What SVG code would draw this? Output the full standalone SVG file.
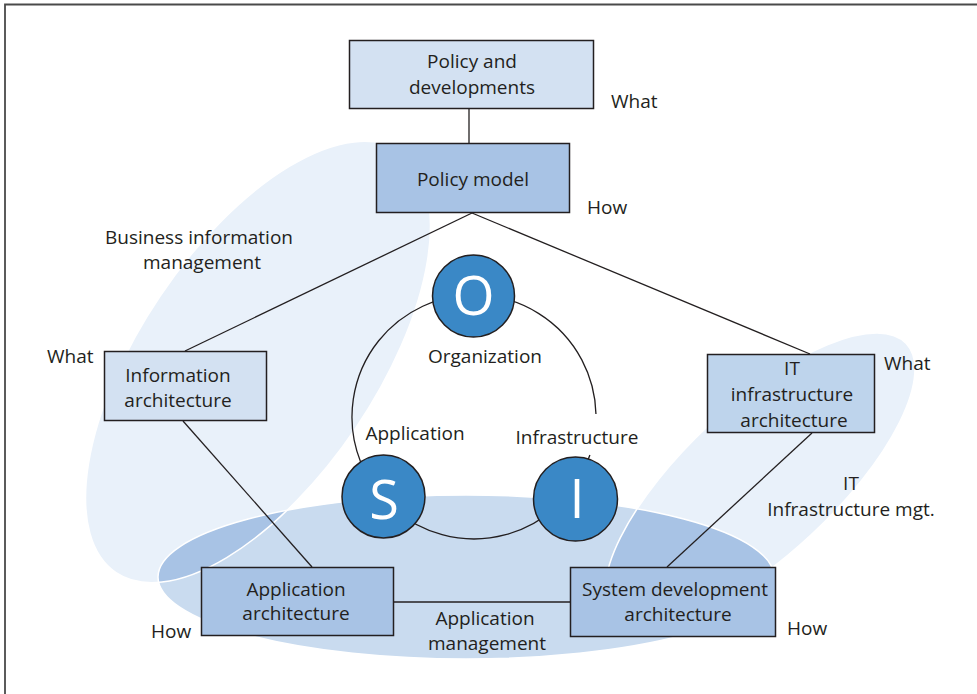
<svg xmlns="http://www.w3.org/2000/svg" width="977" height="694" viewBox="0 0 977 694">
<style>
  .t { font-family: "Open Sans", "Liberation Sans", sans-serif; font-size: 19px; fill: #231f20; text-anchor: middle; }
  .tl { font-family: "Open Sans", "Liberation Sans", sans-serif; font-size: 19px; fill: #231f20; }
  .box { stroke: #231f20; stroke-width: 1.5; }
  .light { fill: #d3e1f2; }
  .mid { fill: #a8c3e5; }
  .itb { fill: #bed4ec; }
  .edge { fill: none; stroke: #231f20; stroke-width: 1.3; }
  .osi { fill: #3a88c6; stroke: #231f20; stroke-width: 1.5; }
  .letter { font-family: "Open Sans", "Liberation Sans", sans-serif; font-size: 54px; fill: #ffffff; text-anchor: middle; }
</style>
<defs>
  <clipPath id="cpBottom">
    <ellipse cx="466" cy="577" rx="308" ry="82"/>
  </clipPath>
</defs>
<rect x="0" y="0" width="977" height="694" fill="#ffffff"/>
<!-- frame -->
<path d="M5 694 V4.5 H977" fill="none" stroke="#4a4a4a" stroke-width="1.8"/>

<!-- regions -->
<g id="regions">
  <ellipse id="bizEllipse" cx="258" cy="362" rx="254" ry="118" transform="rotate(-56 258 362)" fill="#e9f1fa"/>
  <ellipse id="itEllipse" cx="760" cy="480" rx="200" ry="75" transform="rotate(-43 760 480)" fill="#e9f1fa"/>
  <ellipse id="appEllipse" cx="466" cy="577" rx="308" ry="82" fill="#c9dbef"/>
  <g clip-path="url(#cpBottom)">
    <ellipse cx="258" cy="362" rx="254" ry="118" transform="rotate(-56 258 362)" fill="#a8c3e5"/>
    <ellipse cx="760" cy="480" rx="200" ry="75" transform="rotate(-43 760 480)" fill="#a8c3e5"/>
  </g>
  <g fill="none" stroke="#ffffff" stroke-width="1.5">
    <ellipse cx="258" cy="362" rx="254" ry="118" transform="rotate(-56 258 362)"/>
    <ellipse cx="760" cy="480" rx="200" ry="75" transform="rotate(-43 760 480)"/>
    <ellipse cx="466" cy="577" rx="308" ry="82"/>
  </g>
</g>

<!-- connectors -->
<g id="connectors">
  <line class="edge" x1="469" y1="109" x2="469" y2="143"/>
  <line class="edge" x1="472" y1="213" x2="185" y2="351"/>
  <line class="edge" x1="472" y1="213" x2="810" y2="354"/>
  <line class="edge" x1="183" y1="421" x2="312" y2="567"/>
  <line class="edge" x1="812" y1="433" x2="667" y2="567"/>
  <line class="edge" x1="394" y1="602" x2="570" y2="602"/>
  <path class="edge" d="M595.96 414 A122 122 0 1 0 589.9 455"/>
</g>

<!-- region labels -->
<g id="labels">
  <text class="t" x="199" y="244">Business information</text>
  <text class="t" x="202" y="269">management</text>
  <text class="tl" x="611" y="108">What</text>
  <text class="tl" x="587" y="214">How</text>
  <text class="tl" x="47" y="363">What</text>
  <text class="tl" x="884" y="370">What</text>
  <text class="t" x="851" y="490">IT</text>
  <text class="t" x="851" y="516">Infrastructure mgt.</text>
  <text class="tl" x="151" y="638">How</text>
  <text class="tl" x="787" y="635">How</text>
  <text class="t" x="485" y="625">Application</text>
  <text class="t" x="487" y="650">management</text>
  <text class="t" x="485" y="363">Organization</text>
  <text class="t" x="415" y="440">Application</text>
  <text class="t" x="577" y="444">Infrastructure</text>
</g>

<!-- nodes -->
<g id="policyDev">
  <rect class="box light" x="349.5" y="40.5" width="244" height="68"/>
  <text class="t" x="472" y="68">Policy and</text>
  <text class="t" x="472" y="94">developments</text>
</g>
<g id="policyModel">
  <rect class="box mid" x="376.5" y="143.5" width="193" height="69"/>
  <text class="t" x="473" y="186">Policy model</text>
</g>
<g id="infoArch">
  <rect class="box light" x="104.5" y="351.5" width="162" height="69"/>
  <text class="t" x="178" y="382">Information</text>
  <text class="t" x="178" y="407">architecture</text>
</g>
<g id="itArch">
  <rect class="box itb" x="707.5" y="354.5" width="167" height="78"/>
  <text class="t" x="792" y="375">IT</text>
  <text class="t" x="792" y="401">infrastructure</text>
  <text class="t" x="794" y="427">architecture</text>
</g>
<g id="appArch">
  <rect class="box mid" x="201.5" y="567.5" width="192" height="68"/>
  <text class="t" x="296" y="596">Application</text>
  <text class="t" x="296" y="620">architecture</text>
</g>
<g id="sysDevArch">
  <rect class="box mid" x="570.5" y="567.5" width="205" height="69"/>
  <text class="t" x="675" y="596">System development</text>
  <text class="t" x="678" y="621">architecture</text>
</g>
<g id="nodeO">
  <circle class="osi" cx="473.5" cy="296" r="41"/>
  <text class="letter" x="473.5" y="315">O</text>
</g>
<g id="nodeS">
  <circle class="osi" cx="383.5" cy="496.5" r="41.5"/>
  <text class="letter" x="384" y="519">S</text>
</g>
<g id="nodeI">
  <circle class="osi" cx="575.5" cy="499" r="42"/>
  <text class="letter" x="577" y="518">I</text>
</g>
</svg>
